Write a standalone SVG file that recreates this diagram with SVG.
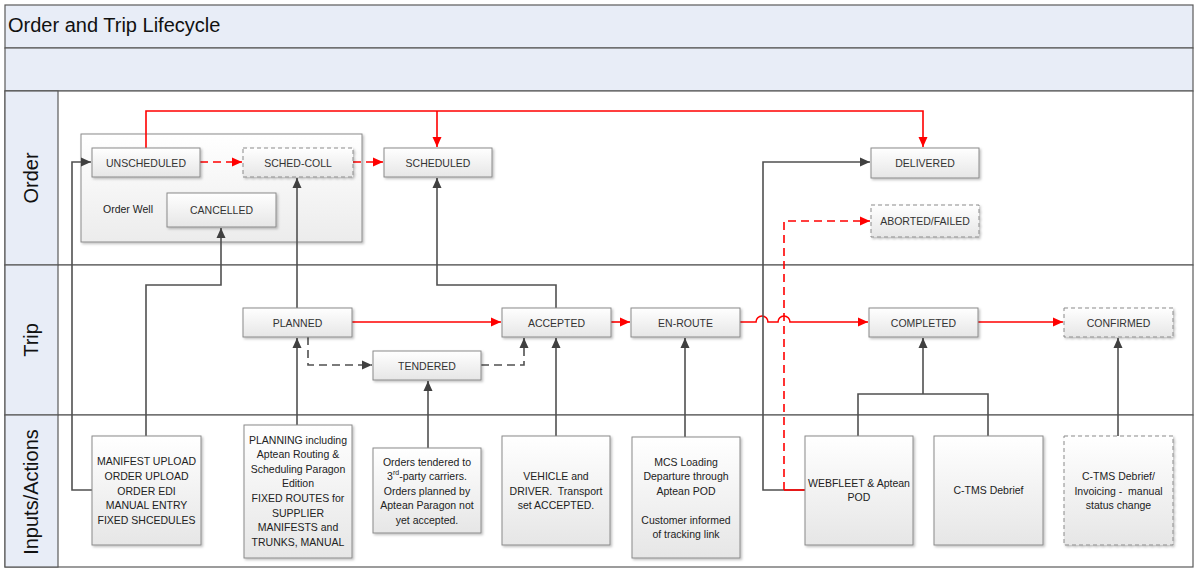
<svg xmlns="http://www.w3.org/2000/svg" width="1200" height="573" viewBox="0 0 1200 573">
<defs>
<linearGradient id="g" x1="0" y1="0" x2="0" y2="1"><stop offset="0" stop-color="#ffffff"/><stop offset="1" stop-color="#e6e6e6"/></linearGradient>
<linearGradient id="gw" x1="0" y1="0" x2="0" y2="1"><stop offset="0" stop-color="#ffffff"/><stop offset="1" stop-color="#ececec"/></linearGradient>
<filter id="sh" x="-10%" y="-10%" width="130%" height="130%"><feDropShadow dx="1.5" dy="1.5" stdDeviation="1" flood-color="#000" flood-opacity="0.25"/></filter>
<marker id="ab" markerUnits="userSpaceOnUse" markerWidth="10" markerHeight="10" refX="10" refY="5" orient="auto"><path d="M0,0.5 L10,5 L0,9.5 z" fill="#404040"/></marker>
<marker id="ar" markerUnits="userSpaceOnUse" markerWidth="10" markerHeight="10" refX="10" refY="5" orient="auto"><path d="M0,0.5 L10,5 L0,9.5 z" fill="#ff0000"/></marker>
</defs>
<style>
.band{fill:#e8edf7;stroke:#5a5a5a;stroke-width:1.2}
.lane{fill:#ffffff;stroke:#5a5a5a;stroke-width:1.2}
.hdr{fill:#e8edf7;stroke:#5a5a5a;stroke-width:1.2}
.box{fill:url(#g);stroke:#8a8a8a;stroke-width:1;filter:url(#sh)}
.dash{stroke-dasharray:4,3}
.lbl{font-family:"Liberation Sans",Arial,sans-serif;font-size:10.5px;fill:#333;text-anchor:middle;dominant-baseline:central}
.txt{font-family:"Liberation Sans",Arial,sans-serif;font-size:10.5px;fill:#222;text-anchor:middle;dominant-baseline:central;white-space:pre}
.big{font-family:"Liberation Sans",Arial,sans-serif;font-size:20px;fill:#111}
.blk{fill:none;stroke:#505050;stroke-width:1.6}
.red{fill:none;stroke:#ff0000;stroke-width:1.6}
.bd{stroke-dasharray:8,5}
.rd{stroke-dasharray:8,5}
</style>
<g id="frame">
<rect class="band" x="5" y="5" width="1188" height="43"/>
<text class="big" x="8" y="32" font-size="21px">Order and Trip Lifecycle</text>
<rect class="band" x="5" y="48" width="1188" height="43"/>
<rect class="lane" x="5" y="91" width="1188" height="174"/>
<rect class="lane" x="5" y="265" width="1188" height="150"/>
<rect class="lane" x="5" y="415" width="1188" height="152"/>
<rect class="hdr" x="5" y="91" width="53" height="174"/>
<rect class="hdr" x="5" y="265" width="53" height="150"/>
<rect class="hdr" x="5" y="415" width="53" height="152"/>
<text class="big" text-anchor="middle" dominant-baseline="central" transform="translate(31,178) rotate(-90)">Order</text>
<text class="big" text-anchor="middle" dominant-baseline="central" transform="translate(31,340) rotate(-90)">Trip</text>
<text class="big" text-anchor="middle" dominant-baseline="central" transform="translate(31,492) rotate(-90)">Inputs/Actions</text>
</g>
<g id="order-well">
<rect x="81" y="134" width="281" height="108" fill="url(#gw)" stroke="#8a8a8a" stroke-width="1" filter="url(#sh)"/>
<text class="txt" x="128" y="209">Order Well</text>
</g>
<g id="connectors">
<path class="red" d="M146,148 V111 H923 V147" marker-end="url(#ar)"/>
<path class="red" d="M437,111 V147" marker-end="url(#ar)"/>
<path class="red rd" d="M200,162 H242" marker-end="url(#ar)"/>
<path class="red rd" d="M353,162 H383" stroke-dasharray="6,4" marker-end="url(#ar)"/>
<path class="blk" d="M146,436 V285 H221 V228" marker-end="url(#ab)"/>
<path class="blk" d="M297,309 V178" marker-end="url(#ab)"/>
<path class="blk" d="M556,308 V285 H437 V178" marker-end="url(#ab)"/>
<path class="blk" d="M92,490 H72 V162 H91" marker-end="url(#ab)"/>
<path class="red" d="M352,322 H501" marker-end="url(#ar)"/>
<path class="red" d="M611,322 H630" marker-end="url(#ar)"/>
<path class="red" d="M740,322 H756 A6,6 0 0 1 768,322 H778 A6,6 0 0 1 790,322 H868" marker-end="url(#ar)"/>
<path class="red" d="M978,322 H1063" marker-end="url(#ar)"/>
<path class="blk bd" d="M308,337 V365 H372" marker-end="url(#ab)"/>
<path class="blk bd" d="M481,365 H524 V338" marker-end="url(#ab)"/>
<path class="blk" d="M297,425 V338" marker-end="url(#ab)"/>
<path class="blk" d="M428,448 V381" marker-end="url(#ab)"/>
<path class="blk" d="M556,436 V338" marker-end="url(#ab)"/>
<path class="blk" d="M685,437 V338" marker-end="url(#ab)"/>
<path class="blk" d="M858,436 V394 H988 V436"/>
<path class="blk" d="M923,394 V338" marker-end="url(#ab)"/>
<path class="blk" d="M1118,436 V338" marker-end="url(#ab)"/>
<path class="blk" d="M805,490 H763 V162 H870" marker-end="url(#ab)"/>
<path class="red" d="M805,490 H784"/>
<path class="red rd" d="M784,490 V221 H870" marker-end="url(#ar)"/>
</g>
<g id="unscheduled"><rect class="box" x="92" y="148" width="108" height="29"/><text class="lbl" x="146" y="162.5">UNSCHEDULED</text></g>
<g id="sched-coll"><rect class="box dash" x="243" y="148" width="110" height="29"/><text class="lbl" x="298" y="162.5">SCHED-COLL</text></g>
<g id="scheduled"><rect class="box" x="384" y="148" width="108" height="29"/><text class="lbl" x="438" y="162.5">SCHEDULED</text></g>
<g id="cancelled"><rect class="box" x="167" y="193" width="109" height="34"/><text class="lbl" x="221.5" y="210">CANCELLED</text></g>
<g id="delivered"><rect class="box" x="871" y="148" width="108" height="30"/><text class="lbl" x="925" y="163">DELIVERED</text></g>
<g id="aborted"><rect class="box dash" x="871" y="205" width="108" height="32"/><text class="lbl" x="925" y="221">ABORTED/FAILED</text></g>
<g id="planned"><rect class="box" x="243" y="308" width="109" height="29"/><text class="lbl" x="297.5" y="322.5">PLANNED</text></g>
<g id="accepted"><rect class="box" x="502" y="308" width="109" height="29"/><text class="lbl" x="556.5" y="322.5">ACCEPTED</text></g>
<g id="tendered"><rect class="box" x="373" y="351" width="108" height="29"/><text class="lbl" x="427" y="365.5">TENDERED</text></g>
<g id="en-route"><rect class="box" x="631" y="308" width="109" height="29"/><text class="lbl" x="685.5" y="322.5">EN-ROUTE</text></g>
<g id="completed"><rect class="box" x="869" y="308" width="109" height="29"/><text class="lbl" x="923.5" y="322.5">COMPLETED</text></g>
<g id="confirmed"><rect class="box dash" x="1064" y="308" width="109" height="29"/><text class="lbl" x="1118.5" y="322.5">CONFIRMED</text></g>
<g id="manifest"><rect class="box" x="92" y="436" width="109" height="109"/>
<text class="txt" x="146.5" y="461">MANIFEST UPLOAD</text><text class="txt" x="146.5" y="476">ORDER UPLOAD</text><text class="txt" x="146.5" y="490.5">ORDER EDI</text><text class="txt" x="146.5" y="505">MANUAL ENTRY</text><text class="txt" x="146.5" y="519.5">FIXED SHCEDULES</text></g>
<g id="planning"><rect class="box" x="244" y="425" width="108" height="133"/>
<text class="txt" x="298" y="439.5">PLANNING including</text><text class="txt" x="298" y="454">Aptean Routing &amp;</text><text class="txt" x="298" y="468.5">Scheduling Paragon</text><text class="txt" x="298" y="483">Edition</text><text class="txt" x="298" y="497.5">FIXED ROUTES for</text><text class="txt" x="298" y="512.5">SUPPLIER</text><text class="txt" x="298" y="527">MANIFESTS and</text><text class="txt" x="298" y="541.5">TRUNKS, MANUAL</text></g>
<g id="tender-input"><rect class="box" x="373" y="448" width="108" height="85"/>
<text class="txt" x="427" y="461.5">Orders tendered to</text><text class="txt" x="427" y="476">3<tspan font-size="7" dy="-4">rd</tspan><tspan dy="4">-party carriers.</tspan></text><text class="txt" x="427" y="490.5">Orders planned by</text><text class="txt" x="427" y="505">Aptean Paragon not</text><text class="txt" x="427" y="519.5">yet accepted.</text></g>
<g id="vehicle"><rect class="box" x="502" y="436" width="108" height="109"/>
<text class="txt" x="556" y="476">VEHICLE and</text><text class="txt" x="556" y="490.5" xml:space="preserve">DRIVER.  Transport</text><text class="txt" x="556" y="505">set ACCEPTED.</text></g>
<g id="mcs"><rect class="box" x="632" y="437" width="108" height="121"/>
<text class="txt" x="686" y="461.5">MCS Loading</text><text class="txt" x="686" y="476">Departure through</text><text class="txt" x="686" y="490.5">Aptean POD</text><text class="txt" x="686" y="519.5">Customer informed</text><text class="txt" x="686" y="534">of tracking link</text></g>
<g id="webfleet"><rect class="box" x="805" y="436" width="108" height="109"/>
<text class="txt" x="859" y="482.5">WEBFLEET &amp; Aptean</text><text class="txt" x="859" y="497">POD</text></g>
<g id="ctms"><rect class="box" x="934" y="436" width="109" height="109"/>
<text class="txt" x="988.5" y="490">C-TMS Debrief</text></g>
<g id="invoicing"><rect class="box dash" x="1064" y="436" width="109" height="109"/>
<text class="txt" x="1118.5" y="476">C-TMS Debrief/</text><text class="txt" x="1118.5" y="490.5" xml:space="preserve">Invoicing -  manual</text><text class="txt" x="1118.5" y="505">status change</text></g>
</svg>
